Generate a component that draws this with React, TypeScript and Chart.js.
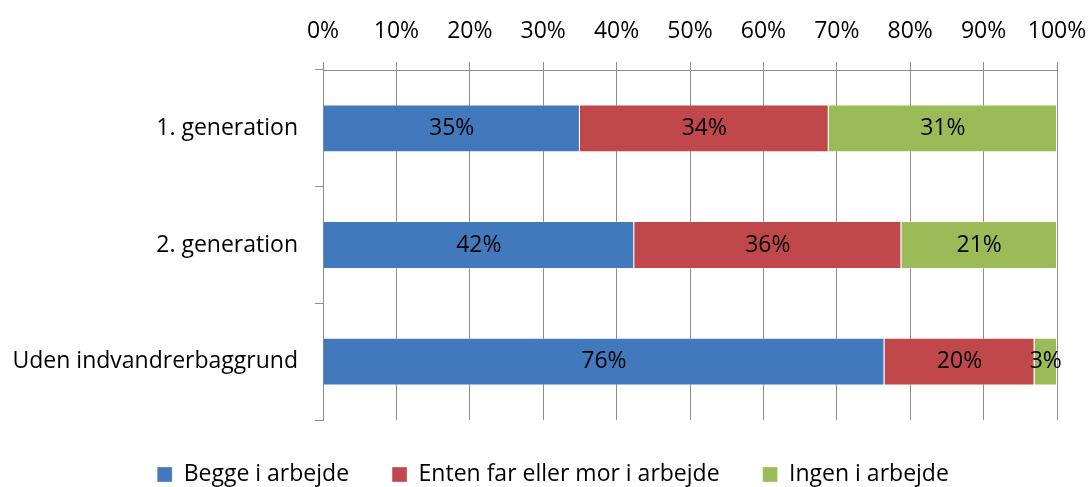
import React, { useEffect, useRef } from "react";
import { Chart, registerables } from "chart.js";

Chart.register(...registerables);

const categories = ["1. generation", "2. generation", "Uden indvandrerbaggrund"];
const begge = [35.0, 42.4, 76.49];
const enten = [33.9, 36.4, 20.45];
const ingen = [31.1, 21.2, 3.06];
const seriesNames = ["Begge i arbejde", "Enten far eller mor i arbejde", "Ingen i arbejde"];
const xTicks = [0, 10, 20, 30, 40, 50, 60, 70, 80, 90, 100];

const FONT = "'Open Sans'";
const FSIZE = 23;
const GRID = "#8c8c8c";

const labelPlugin = {
  id: "barLabels",
  afterDatasetsDraw(chart: any) {
    const ctx = chart.ctx;
    ctx.save();
    ctx.font = `${FSIZE}px ${FONT}`;
    ctx.fillStyle = "#000";
    ctx.textAlign = "center";
    ctx.textBaseline = "middle";
    chart.data.datasets.forEach((ds: any, i: number) => {
      const meta = chart.getDatasetMeta(i);
      meta.data.forEach((el: any, j: number) => {
        const v = ds.data[j];
        const cx = (el.x + el.base) / 2;
        ctx.fillText(Math.round(v) + "%", cx, el.y);
      });
    });
    ctx.restore();
  },
};

const legendShift = {
  id: "legendShift",
  beforeDraw(chart: any) {
    if (chart.legend) chart.legend.left = 49;
  },
};

export default function App() {
  const ref = useRef<HTMLCanvasElement>(null);
  useEffect(() => {
    if (!ref.current) return;
    const border = "rgba(255,255,255,0.35)";
    const chart = new Chart(ref.current, {
      type: "bar",
      data: {
        labels: categories,
        datasets: [
          { label: seriesNames[0], data: begge, backgroundColor: "#4279BD", borderColor: border, borderWidth: 1 },
          { label: seriesNames[1], data: enten, backgroundColor: "#C0474A", borderColor: border, borderWidth: 1 },
          { label: seriesNames[2], data: ingen, backgroundColor: "#9BBB59", borderColor: border, borderWidth: 1 },
        ],
      },
      options: {
        indexAxis: "y",
        animation: false,
        responsive: true,
        maintainAspectRatio: false,
        datasets: { bar: { barPercentage: 0.41, categoryPercentage: 1 } },
        layout: { padding: { left: 0, right: 34, top: 0, bottom: -9 } },
        scales: {
          x: {
            position: "top",
            stacked: true,
            min: 0,
            max: 100,
            afterBuildTicks: (scale: any) => {
              scale.ticks = xTicks.map((v) => ({ value: v }));
            },
            afterFit: (scale: any) => {
              scale.height = 70;
              scale.paddingLeft = 0;
              scale.paddingRight = 0;
            },
            ticks: {
              callback: (v: any) => v + "%",
              font: { family: FONT, size: FSIZE },
              color: "#000",
              padding: 17,
              maxRotation: 0,
            },
            grid: { color: GRID, lineWidth: 1, tickLength: 8, drawTicks: true },
            border: { display: true, color: GRID, width: 1 },
          },
          y: {
            stacked: true,
            afterFit: (scale: any) => {
              scale.width = 323;
            },
            ticks: {
              font: { family: FONT, size: FSIZE },
              color: "#000",
              padding: 17,
            },
            grid: { offset: true, drawOnChartArea: false, color: GRID, tickLength: 8 },
            border: { display: true, color: GRID, width: 1 },
          },
        },
        plugins: {
          legend: {
            position: "bottom",
            labels: {
              font: { family: FONT, size: FSIZE },
              color: "#000",
              boxWidth: 15,
              boxHeight: 15,
              padding: 43,
            },
          },
          tooltip: { enabled: false },
        },
      },
      plugins: [labelPlugin, legendShift],
    } as any);
    return () => chart.destroy();
  }, []);
  return (
    <div style={{ position: "absolute", left: 0, top: 0, width: 1091, height: 487, background: "#fff" }}>
      <canvas ref={ref} />
    </div>
  );
}
